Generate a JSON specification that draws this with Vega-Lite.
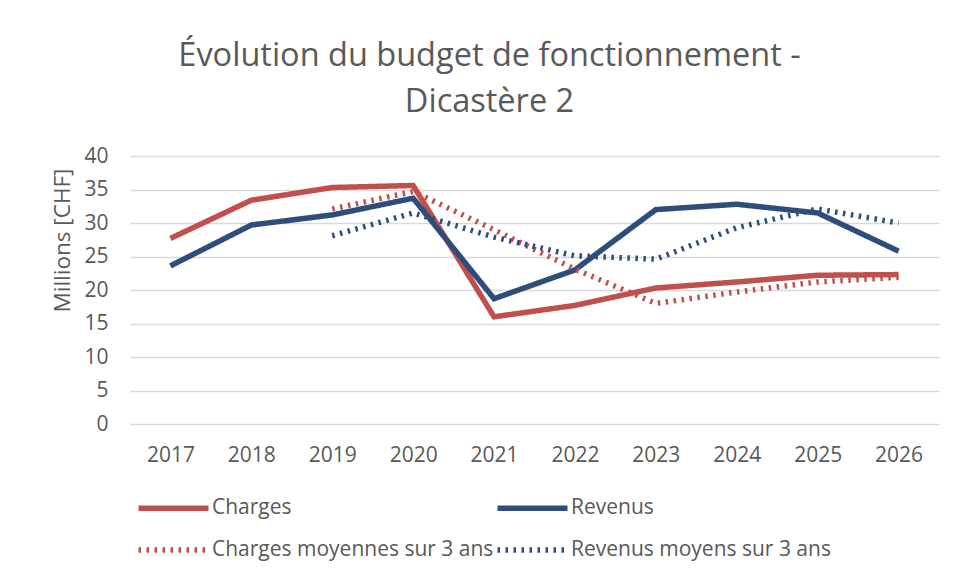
{
  "$schema": "https://vega.github.io/schema/vega-lite/v6.json",
  "width": 809,
  "height": 268,
  "autosize": {"type": "none"},
  "padding": {"left": 130, "top": 156, "right": 16, "bottom": 157},
  "background": "white",
  "config": {
    "font": "Open Sans",
    "view": {"stroke": null}
  },
  "title": {
    "text": ["Évolution du budget de fonctionnement -", "Dicastère 2"],
    "fontSize": 32.5,
    "fontWeight": "normal",
    "color": "#595959",
    "lineHeight": 46,
    "anchor": "middle",
    "dx": -45,
    "offset": 27
  },
  "data": {
    "values": [
      {"annee": "2017", "serie": "Charges", "valeur": 27.7},
      {"annee": "2018", "serie": "Charges", "valeur": 33.4},
      {"annee": "2019", "serie": "Charges", "valeur": 35.3},
      {"annee": "2020", "serie": "Charges", "valeur": 35.6},
      {"annee": "2021", "serie": "Charges", "valeur": 16.0},
      {"annee": "2022", "serie": "Charges", "valeur": 17.7},
      {"annee": "2023", "serie": "Charges", "valeur": 20.3},
      {"annee": "2024", "serie": "Charges", "valeur": 21.2},
      {"annee": "2025", "serie": "Charges", "valeur": 22.2},
      {"annee": "2026", "serie": "Charges", "valeur": 22.3},
      {"annee": "2017", "serie": "Revenus", "valeur": 23.6},
      {"annee": "2018", "serie": "Revenus", "valeur": 29.7},
      {"annee": "2019", "serie": "Revenus", "valeur": 31.2},
      {"annee": "2020", "serie": "Revenus", "valeur": 33.7},
      {"annee": "2021", "serie": "Revenus", "valeur": 18.7},
      {"annee": "2022", "serie": "Revenus", "valeur": 23.0},
      {"annee": "2023", "serie": "Revenus", "valeur": 32.0},
      {"annee": "2024", "serie": "Revenus", "valeur": 32.8},
      {"annee": "2025", "serie": "Revenus", "valeur": 31.5},
      {"annee": "2026", "serie": "Revenus", "valeur": 25.8},
      {"annee": "2019", "serie": "Charges moyennes sur 3 ans", "valeur": 32.1},
      {"annee": "2020", "serie": "Charges moyennes sur 3 ans", "valeur": 34.7},
      {"annee": "2021", "serie": "Charges moyennes sur 3 ans", "valeur": 29.0},
      {"annee": "2022", "serie": "Charges moyennes sur 3 ans", "valeur": 23.1},
      {"annee": "2023", "serie": "Charges moyennes sur 3 ans", "valeur": 18.0},
      {"annee": "2024", "serie": "Charges moyennes sur 3 ans", "valeur": 19.7},
      {"annee": "2025", "serie": "Charges moyennes sur 3 ans", "valeur": 21.2},
      {"annee": "2026", "serie": "Charges moyennes sur 3 ans", "valeur": 21.9},
      {"annee": "2019", "serie": "Revenus moyens sur 3 ans", "valeur": 28.1},
      {"annee": "2020", "serie": "Revenus moyens sur 3 ans", "valeur": 31.5},
      {"annee": "2021", "serie": "Revenus moyens sur 3 ans", "valeur": 27.9},
      {"annee": "2022", "serie": "Revenus moyens sur 3 ans", "valeur": 25.1},
      {"annee": "2023", "serie": "Revenus moyens sur 3 ans", "valeur": 24.6},
      {"annee": "2024", "serie": "Revenus moyens sur 3 ans", "valeur": 29.3},
      {"annee": "2025", "serie": "Revenus moyens sur 3 ans", "valeur": 32.1},
      {"annee": "2026", "serie": "Revenus moyens sur 3 ans", "valeur": 30.0}
    ]
  },
  "mark": {"type": "line", "strokeCap": "butt", "strokeJoin": "miter"},
  "encoding": {
    "x": {
      "field": "annee",
      "type": "ordinal",
      "scale": {"type": "point", "padding": 0.5},
      "axis": {
        "title": null,
        "labelAngle": 0,
        "labelFontSize": 21,
        "labelColor": "#595959",
        "labelPadding": 20,
        "domain": false,
        "ticks": false,
        "grid": false
      }
    },
    "y": {
      "field": "valeur",
      "type": "quantitative",
      "scale": {"domain": [0, 40], "nice": false},
      "axis": {
        "title": "Millions [CHF]",
        "titleFontSize": 22.5,
        "titleFontWeight": "normal",
        "titleColor": "#595959",
        "titleAngle": -90,
        "titleX": -68,
        "titleY": 84,
        "titleAlign": "center",
        "titleBaseline": "middle",
        "values": [0, 5, 10, 15, 20, 25, 30, 35, 40],
        "labelFontSize": 21,
        "labelColor": "#595959",
        "labelPadding": 22,
        "domain": false,
        "ticks": false,
        "grid": true,
        "gridColor": "#D9D9D9",
        "gridWidth": 1.3
      }
    },
    "color": {
      "field": "serie",
      "type": "nominal",
      "scale": {
        "domain": ["Charges", "Revenus", "Charges moyennes sur 3 ans", "Revenus moyens sur 3 ans"],
        "range": ["#C0504D", "#2E4D7B", "#C0504D", "#2E4D7B"]
      },
      "legend": {
        "title": null,
        "orient": "none",
        "legendX": 5,
        "legendY": 341.5,
        "direction": "horizontal",
        "columns": 2,
        "columnPadding": -12,
        "rowPadding": 19,
        "symbolType": "M-5,0H5",
        "symbolSize": 196,
        "symbolOffset": 28,
        "labelFontSize": 21,
        "labelColor": "#595959",
        "labelOffset": 28,
        "labelLimit": 400,
        "gridAlign": "all",
        "padding": 0
      }
    },
    "strokeDash": {
      "field": "serie",
      "type": "nominal",
      "scale": {
        "domain": ["Charges", "Revenus", "Charges moyennes sur 3 ans", "Revenus moyens sur 3 ans"],
        "range": [[1, 0], [1, 0], [2.5, 5.5], [2.5, 5.5]]
      }
    },
    "strokeWidth": {
      "field": "serie",
      "type": "nominal",
      "scale": {
        "domain": ["Charges", "Revenus", "Charges moyennes sur 3 ans", "Revenus moyens sur 3 ans"],
        "range": [5.5, 5.5, 2.8, 2.8]
      }
    }
  }
}
